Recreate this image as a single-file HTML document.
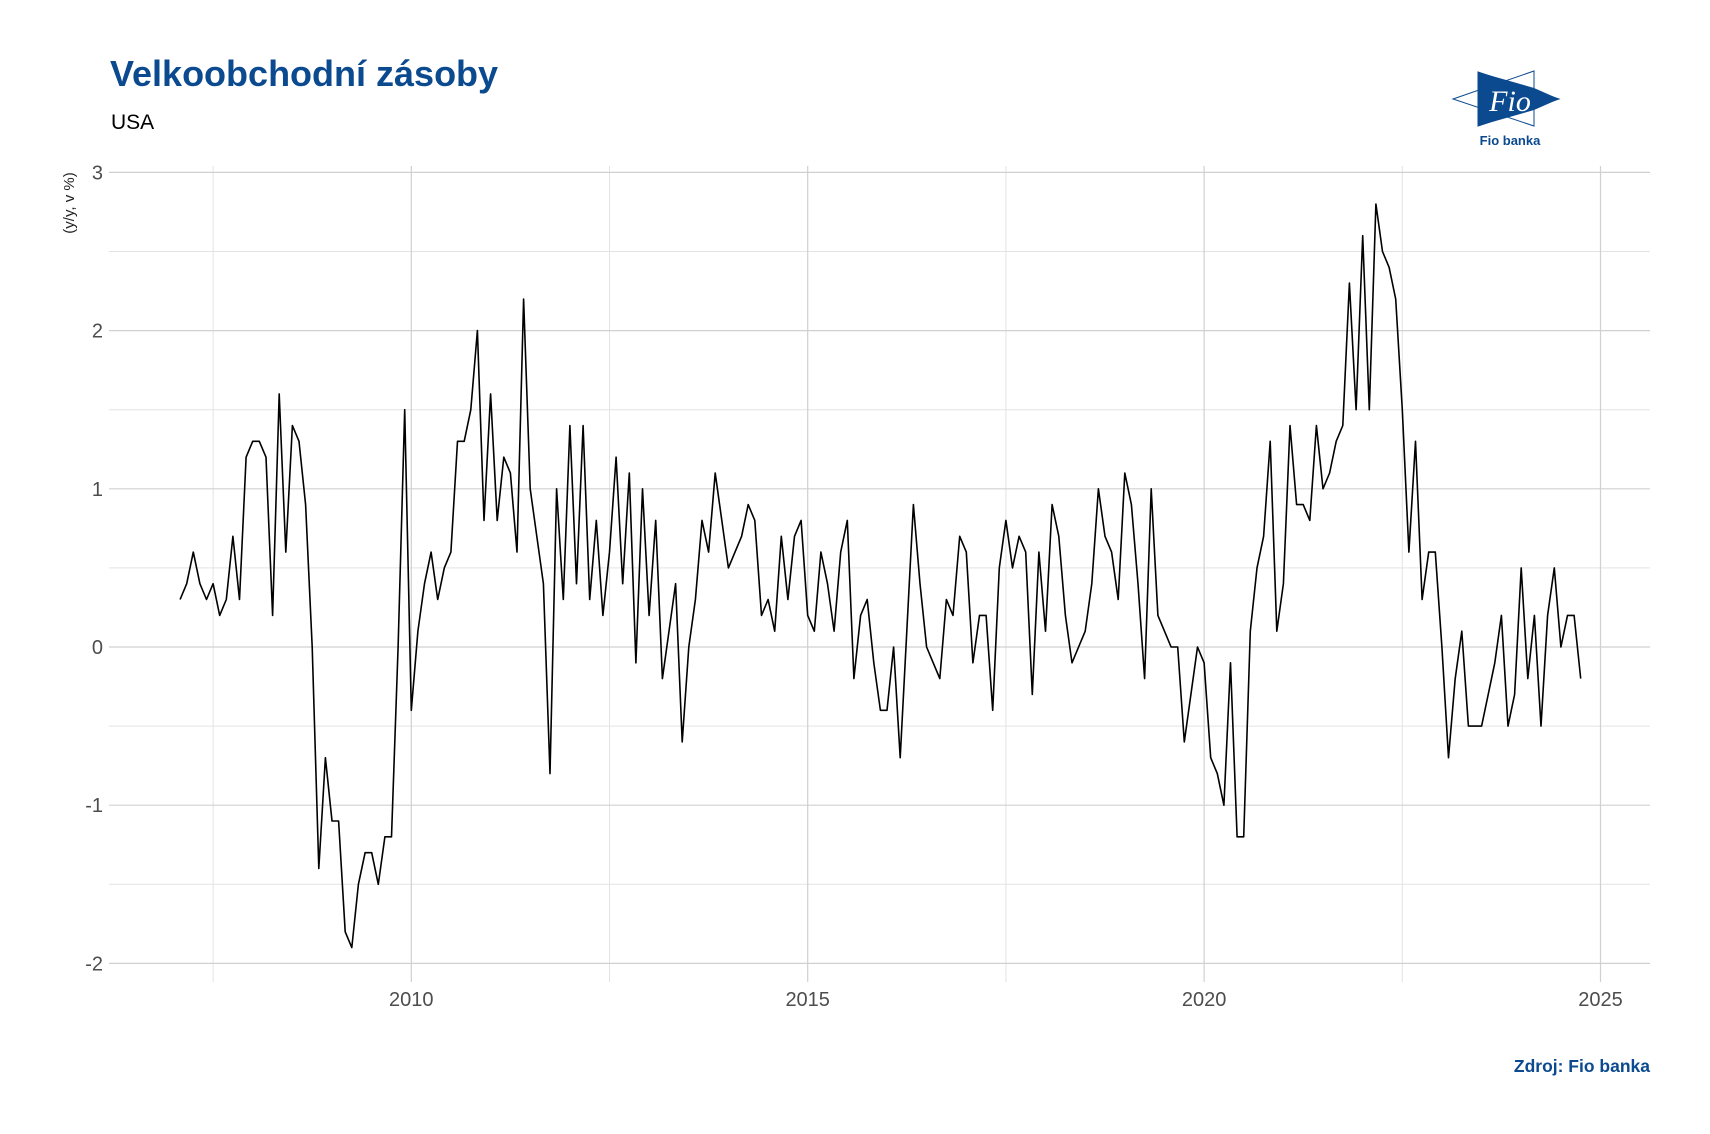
<!DOCTYPE html>
<html><head><meta charset="utf-8">
<style>
html,body{margin:0;padding:0;background:#fff;}
body{width:1710px;height:1134px;position:relative;overflow:hidden;font-family:"Liberation Sans",sans-serif;}
.t{position:absolute;white-space:nowrap;}
</style></head>
<body>
<div class="t" style="left:110px;top:53px;font-size:36px;font-weight:bold;color:#0b4a8f;">Velkoobchodní zásoby</div>
<div class="t" style="left:111px;top:111px;font-size:21px;color:#000;">USA</div>
<svg style="position:absolute;left:1450px;top:66px" width="120" height="84" viewBox="0 0 120 84">
  <polygon points="3,33 84,5 84,60" fill="none" stroke="#0b4a8f" stroke-width="1"/>
  <polygon points="28,6 109,33 28,60" fill="none" stroke="#0b4a8f" stroke-width="1"/>
  <polygon points="28,6 84,22 109,33 84,44 28,60" fill="#0b4a8f"/>
  <text x="60" y="45" font-family="Liberation Serif,serif" font-style="italic" font-size="30" fill="#fff" text-anchor="middle">Fio</text>
  <text x="60" y="79" font-family="Liberation Sans,sans-serif" font-weight="bold" font-size="13" fill="#0b4a8f" text-anchor="middle">Fio banka</text>
</svg>
<svg id="chart" style="position:absolute;left:0;top:0" width="1710" height="1134"></svg>
<div class="t" style="right:60px;top:1056px;font-size:17.5px;font-weight:bold;color:#0b4a8f;">Zdroj: Fio banka</div>
<script>
const startYear = 2007, startMonth = 2;
const values = [0.3,0.4,0.6,0.4,0.3,0.4,0.2,0.3,0.7,0.3,1.2,1.3,1.3,1.2,0.2,1.6,0.6,1.4,1.3,0.9,0,-1.4,-0.7,-1.1,-1.1,-1.8,-1.9,-1.5,-1.3,-1.3,-1.5,-1.2,-1.2,0,1.5,-0.4,0.1,0.4,0.6,0.3,0.5,0.6,1.3,1.3,1.5,2.0,0.8,1.6,0.8,1.2,1.1,0.6,2.2,1.0,0.7,0.4,-0.8,1.0,0.3,1.4,0.4,1.4,0.3,0.8,0.2,0.6,1.2,0.4,1.1,-0.1,1.0,0.2,0.8,-0.2,0.1,0.4,-0.6,0,0.3,0.8,0.6,1.1,0.8,0.5,0.6,0.7,0.9,0.8,0.2,0.3,0.1,0.7,0.3,0.7,0.8,0.2,0.1,0.6,0.4,0.1,0.6,0.8,-0.2,0.2,0.3,-0.1,-0.4,-0.4,0,-0.7,0.1,0.9,0.4,0,-0.1,-0.2,0.3,0.2,0.7,0.6,-0.1,0.2,0.2,-0.4,0.5,0.8,0.5,0.7,0.6,-0.3,0.6,0.1,0.9,0.7,0.2,-0.1,0,0.1,0.4,1.0,0.7,0.6,0.3,1.1,0.9,0.4,-0.2,1.0,0.2,0.1,0,0,-0.6,-0.3,0,-0.1,-0.7,-0.8,-1.0,-0.1,-1.2,-1.2,0.1,0.5,0.7,1.3,0.1,0.4,1.4,0.9,0.9,0.8,1.4,1.0,1.1,1.3,1.4,2.3,1.5,2.6,1.5,2.8,2.5,2.4,2.2,1.5,0.6,1.3,0.3,0.6,0.6,0,-0.7,-0.2,0.1,-0.5,-0.5,-0.5,-0.3,-0.1,0.2,-0.5,-0.3,0.5,-0.2,0.2,-0.5,0.2,0.5,0,0.2,0.2,-0.2];
const yTicks = [3,2,1,0,-1,-2];
const yMinor = [2.5,1.5,0.5,-0.5,-1.5];
const xTicks = [2010,2015,2020,2025];
const xMinor = [2007.5,2012.5,2017.5,2022.5];
const ns = "http://www.w3.org/2000/svg";
const svg = document.getElementById('chart');
const X = t => 411.3 + (t - 2010) * 79.28;
const Y = v => 647.0 - v * 158.2;
const L = 109, R = 1650, T = 166, B = 982;
function mk(tag, attrs){const e=document.createElementNS(ns,tag);for(const k in attrs)e.setAttribute(k,attrs[k]);svg.appendChild(e);return e;}
yMinor.forEach(v=>{const e=mk('line',{x1:L,x2:R,y1:Y(v),y2:Y(v),stroke:'#e3e3e3','stroke-width':1});

});
xMinor.forEach(t=>{const e=mk('line',{x1:X(t),x2:X(t),y1:T,y2:B,stroke:'#e3e3e3','stroke-width':1});

});
yTicks.forEach(v=>{const e=mk('line',{x1:L,x2:R,y1:Y(v),y2:Y(v),stroke:'#d0d0d0','stroke-width':1.2});


const t=mk('text',{x:103,y:Y(v)+7,'text-anchor':'end','font-size':20,fill:'#4d4d4d','font-family':'Liberation Sans, sans-serif'});
t.textContent=v;

});
xTicks.forEach(y=>{const e=mk('line',{x1:X(y),x2:X(y),y1:T,y2:B,stroke:'#d0d0d0','stroke-width':1.2});


const t=mk('text',{x:X(y),y:1006,'text-anchor':'middle','font-size':20,fill:'#4d4d4d','font-family':'Liberation Sans, sans-serif'});
t.textContent=y;

});
const yt=mk('text',{x:0,y:0,transform:'translate(74,203) rotate(-90)','text-anchor':'middle','font-size':15,fill:'#222','font-family':'Liberation Sans, sans-serif'});
yt.textContent='(y/y, v %)';


const pts = values.map((v,i)=>X(startYear+(startMonth-1+i)/12).toFixed(1)+','+Y(v).toFixed(1)).join(' ');
const pl=mk('polyline',{points:pts,fill:'none',stroke:'#000','stroke-width':1.6,'stroke-linejoin':'round'});


</script>
</body></html>
